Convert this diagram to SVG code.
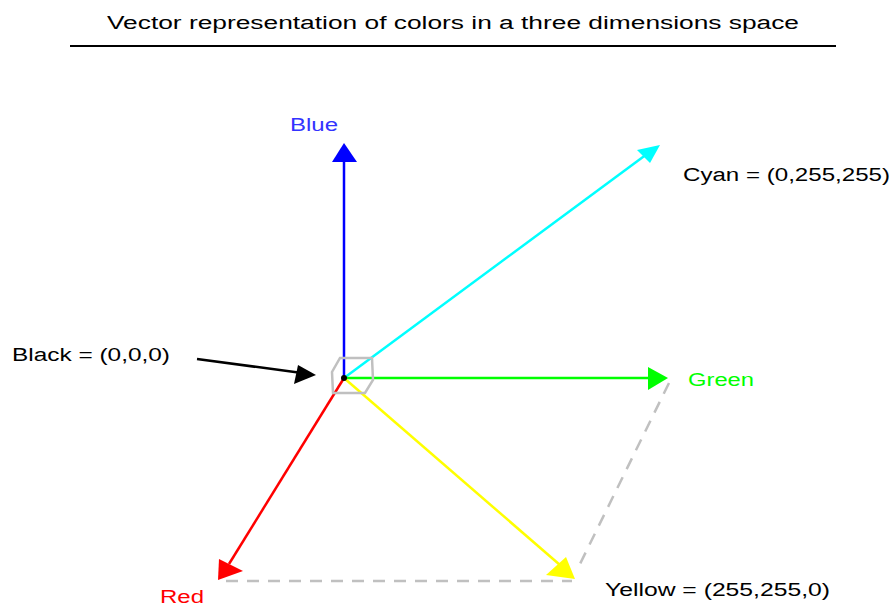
<svg xmlns="http://www.w3.org/2000/svg" width="893" height="608" viewBox="0 0 893 608">
<style>
text{font-family:"Liberation Sans",Arial,sans-serif;font-size:18px}
.ax{stroke-width:2.5;fill:none}
.dash{stroke:#c0c0c0;stroke-width:2.5;stroke-dasharray:12,9;fill:none}
</style>
<rect width="893" height="608" fill="#fff"/>
<g id="title">
<text x="453" y="29" text-anchor="middle" font-size="20" textLength="692" lengthAdjust="spacingAndGlyphs" fill="#000">Vector representation of colors in a three dimensions space</text>
<line x1="70" y1="46" x2="836" y2="46" stroke="#000" stroke-width="2"/>
</g>
<g id="connectors">
<path class="dash" d="M226,581 L572,581"/>
<path class="dash" d="M669,383 L578,568"/>
<line class="ax" x1="344" y1="378" x2="344" y2="160" stroke="#0000ff"/>
<polygon points="344,143 332,162 357,162" fill="#0000ff"/>
<line class="ax" x1="344" y1="378" x2="647" y2="154" stroke="#00ffff" stroke-width="2"/>
<polygon points="660,145 637,150 650,163" fill="#00ffff"/>
<line class="ax" x1="344" y1="378" x2="650" y2="378" stroke="#00ff00"/>
<polygon points="668,378 648,367 648,390" fill="#00ff00"/>
<line class="ax" x1="344" y1="378" x2="560" y2="565" stroke="#ffff00" stroke-width="2"/>
<polygon points="575,579 566,557 546,575" fill="#ffff00"/>
<line class="ax" x1="344" y1="378" x2="229" y2="564" stroke="#ff0000"/>
<polygon points="218,580 219,559 243,571" fill="#ff0000"/>
<line x1="197" y1="359" x2="302" y2="373" stroke="#000" stroke-width="2.5"/>
<polygon points="316,375 298,365 294,384" fill="#000"/>
</g>
<g id="origin">
<path d="M340,358 L372,358 L373,380 L365,393 L333,393 L332,372 Z" fill="none" stroke="#c0c0c0" stroke-width="2.5"/>
<circle cx="344" cy="378" r="3" fill="#000"/>
</g>
<g id="blue"><text x="290" y="131" fill="#3333ff" textLength="48" lengthAdjust="spacingAndGlyphs">Blue</text></g>
<g id="cyan"><text x="683" y="181" fill="#000" textLength="207" lengthAdjust="spacingAndGlyphs">Cyan = (0,255,255)</text></g>
<g id="black"><text x="12" y="361" fill="#000" textLength="158" lengthAdjust="spacingAndGlyphs">Black = (0,0,0)</text></g>
<g id="green"><text x="688" y="386" fill="#00ff00" textLength="66" lengthAdjust="spacingAndGlyphs">Green</text></g>
<g id="yellow"><text x="605" y="596" fill="#000" textLength="225" lengthAdjust="spacingAndGlyphs">Yellow = (255,255,0)</text></g>
<g id="red"><text x="160" y="603" fill="#ff0000" textLength="44" lengthAdjust="spacingAndGlyphs">Red</text></g>
</svg>
